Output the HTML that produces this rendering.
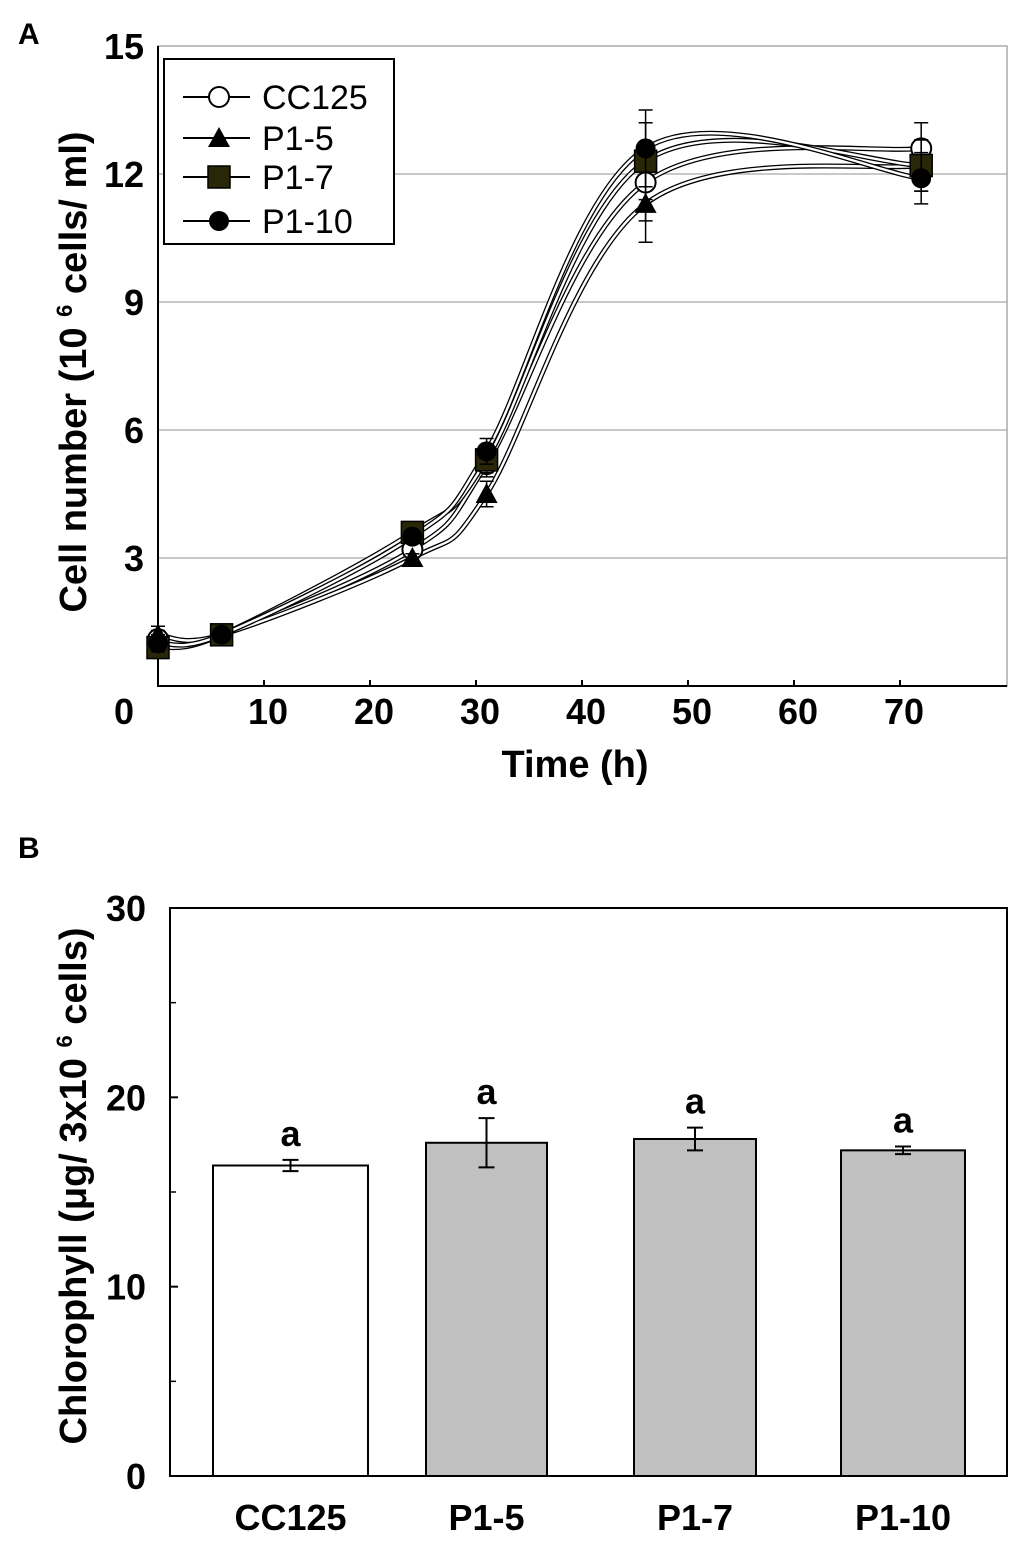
<!DOCTYPE html>
<html><head><meta charset="utf-8"><style>
body{margin:0;background:#fff;width:1024px;height:1544px;overflow:hidden}
svg{display:block;font-family:"Liberation Sans",Arial,sans-serif}
</style></head><body>
<svg id="fig" width="1024" height="1544" viewBox="0 0 1024 1544">
<text x="18" y="44" font-weight="bold" font-size="30">A</text>
<text x="18" y="858" font-weight="bold" font-size="30">B</text>
<g id="gA"></g>
<g id="gB"></g>
</svg>
<script>
const times=[0,6,24,31,46,72];
const seriesNames=["CC125","P1-5","P1-7","P1-10"];
const cc125=[1.1,1.2,3.2,5.2,11.8,12.6];
const p15=[1.2,1.2,3.0,4.5,11.3,12.2];
const p17=[0.9,1.2,3.6,5.3,12.3,12.2];
const p110=[1.0,1.2,3.5,5.5,12.6,11.9];
const errA=[0.2,0.1,0.1,0.3,0.9,0.6];
const yTicksA=[3,6,9,12,15];
const xTicksA=[0,10,20,30,40,50,60,70];
const categories=["CC125","P1-5","P1-7","P1-10"];
const chl=[16.4,17.6,17.8,17.2];
const chlErr=[0.3,1.3,0.6,0.2];
const yTicksB=[0,10,20,30];
const NS="http://www.w3.org/2000/svg";
function mk(p,t,a){const e=document.createElementNS(NS,t);for(const k in a)e.setAttribute(k,a[k]);p.appendChild(e);return e;}
// Panel A
const gA=document.getElementById('gA');
const xA=t=>158+t*10.6, yA=v=>686-v*(640/15);
yTicksA.forEach(v=>{if(v<15){const l=mk(gA,'line',{x1:158,x2:1007,y1:yA(v),y2:yA(v),stroke:'#c8c8c8','stroke-width':2});
}
const t=mk(gA,'text',{x:144,y:yA(v)+13,'text-anchor':'end','font-size':36,'font-weight':'bold'});t.textContent=v;
});
const fr=mk(gA,'rect',{x:158,y:46,width:849,height:640,fill:'none',stroke:'#aaa','stroke-width':1.5});

mk(gA,'path',{d:'M158 46V686H1007',fill:'none',stroke:'#000','stroke-width':2});
xTicksA.forEach(v=>{if(v>0)mk(gA,'line',{x1:xA(v),x2:xA(v),y1:680,y2:686,stroke:'#000','stroke-width':2});
const t=mk(gA,'text',{x:v==0?124:xA(v)+4,y:724,'text-anchor':'middle','font-size':36,'font-weight':'bold'});t.textContent=v;
});
let t1=mk(gA,'text',{x:575,y:777,'text-anchor':'middle','font-size':38,'font-weight':'bold'});t1.textContent='Time (h)';

let t2=mk(gA,'text',{transform:'translate(86,372) rotate(-90)','text-anchor':'middle','font-size':38,'font-weight':'bold'});
t2.innerHTML='Cell number  (10 <tspan font-size="22" dy="-14">6</tspan><tspan dy="14"> cells/ ml)</tspan>';

const allSeries=[cc125,p15,p17,p110];
function spline(pts){let d=`M${pts[0][0]} ${pts[0][1]}`;for(let i=0;i<pts.length-1;i++){const p0=pts[Math.max(0,i-1)],p1=pts[i],p2=pts[i+1],p3=pts[Math.min(pts.length-1,i+2)];
const c1=[p1[0]+(p2[0]-p0[0])/6,p1[1]+(p2[1]-p0[1])/6],c2=[p2[0]-(p3[0]-p1[0])/6,p2[1]-(p3[1]-p1[1])/6];
d+=`C${c1[0]} ${c1[1]} ${c2[0]} ${c2[1]} ${p2[0]} ${p2[1]}`;}return d;}
allSeries.forEach((s,si)=>{const pts=s.map((v,i)=>[xA(times[i]),yA(v)]);
mk(gA,'path',{d:spline(pts),fill:'none',stroke:'#000','stroke-width':5});
const l=mk(gA,'path',{d:spline(pts),fill:'none',stroke:'#fff','stroke-width':2.4});
});
function marker(g,si,x,y){let e;
if(si==0)e=mk(g,'circle',{cx:x,cy:y,r:10,fill:'#fff',stroke:'#000','stroke-width':2});
else if(si==1)e=mk(g,'path',{d:`M${x} ${y-11}L${x+11} ${y+9}L${x-11} ${y+9}Z`,fill:'#000'});
else if(si==2)e=mk(g,'rect',{x:x-11,y:y-11,width:22,height:22,fill:'#2a2608',stroke:'#000','stroke-width':1.5});
else e=mk(g,'circle',{cx:x,cy:y,r:10,fill:'#000'});return e;}
allSeries.forEach((s,si)=>{s.forEach((v,i)=>{const x=xA(times[i]),e=errA[i];
mk(gA,'path',{d:`M${x} ${yA(v+e)}V${yA(v-e)}M${x-7} ${yA(v+e)}h14M${x-7} ${yA(v-e)}h14`,stroke:'#000','stroke-width':1.5,fill:'none'});
const m=marker(gA,si,x,yA(v));});});
const lg=mk(gA,'g',{});
mk(lg,'rect',{x:164,y:59,width:230,height:185,fill:'#fff',stroke:'#000','stroke-width':2});
const ly=[97,138,177,221];
seriesNames.forEach((n,i)=>{const ge=mk(lg,'g',{});
mk(ge,'line',{x1:183,x2:250,y1:ly[i],y2:ly[i],stroke:'#000','stroke-width':2});marker(ge,i,219,ly[i]);
const t=mk(ge,'text',{x:262,y:ly[i]+12,'font-size':34});t.textContent=n;});
// Panel B
const gB=document.getElementById('gB');
const yB=v=>1476-v*(568/30);
mk(gB,'rect',{x:170,y:908,width:837,height:568,fill:'none',stroke:'#000','stroke-width':2});
[5,15,25].forEach(v=>mk(gB,'line',{x1:170,x2:176,y1:yB(v),y2:yB(v),stroke:'#000','stroke-width':1.5}));
yTicksB.forEach(v=>{mk(gB,'line',{x1:170,x2:178,y1:yB(v),y2:yB(v),stroke:'#000','stroke-width':2});
const t=mk(gB,'text',{x:146,y:yB(v)+13,'text-anchor':'end','font-size':36,'font-weight':'bold'});t.textContent=v;
});
const bx=[213,426,634,841],bw=[155,121,122,124];
categories.forEach((c,i)=>{const v=chl[i],e=chlErr[i],cx=bx[i]+bw[i]/2;
const r=mk(gB,'rect',{x:bx[i],y:yB(v),width:bw[i],height:1476-yB(v),fill:i==0?'#fff':'#c0c0c0',stroke:'#000','stroke-width':2});

mk(gB,'path',{d:`M${cx} ${yB(v+e)}V${yB(v-e)}M${cx-8} ${yB(v+e)}h16M${cx-8} ${yB(v-e)}h16`,stroke:'#000','stroke-width':2,fill:'none'});
const a=mk(gB,'text',{x:cx,y:yB(v+e)-14,'text-anchor':'middle','font-size':36,'font-weight':'bold'});a.textContent='a';

const t=mk(gB,'text',{x:cx,y:1530,'text-anchor':'middle','font-size':36,'font-weight':'bold'});t.textContent=c;
});
let t3=mk(gB,'text',{transform:'translate(86,1186) rotate(-90)','text-anchor':'middle','font-size':38,'font-weight':'bold'});
t3.innerHTML='Chlorophyll (μg/ 3x10 <tspan font-size="22" dy="-14">6</tspan><tspan dy="14"> cells)</tspan>';

</script>
</body></html>
